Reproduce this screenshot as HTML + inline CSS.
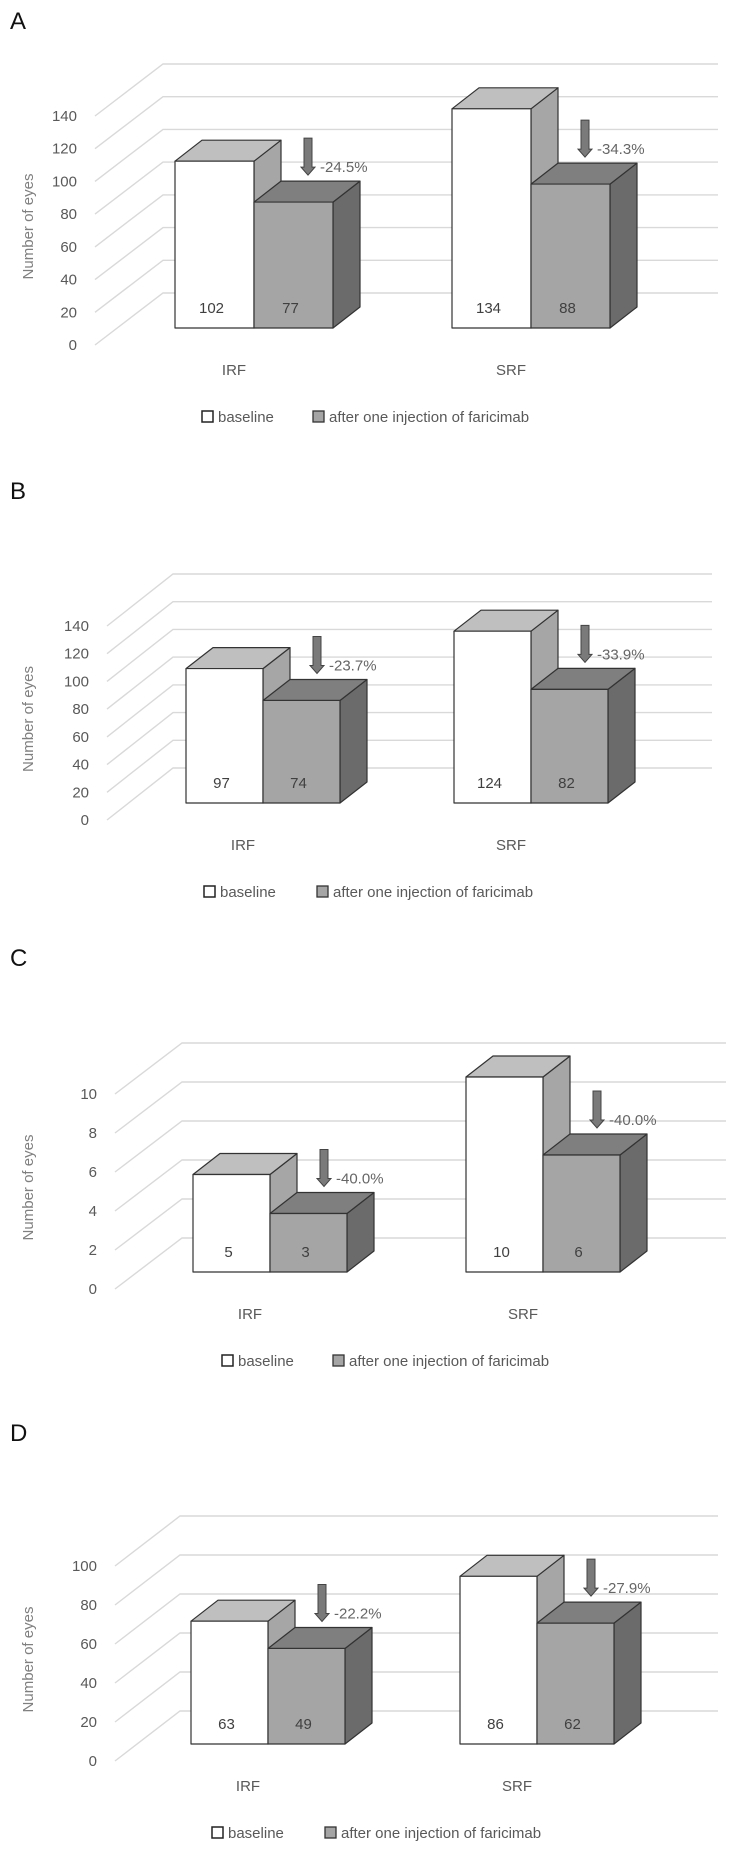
<!DOCTYPE html>
<html>
<head>
<meta charset="utf-8">
<style>
  html, body { margin: 0; padding: 0; background: #fff; }
  body { width: 732px; height: 1859px; overflow: hidden; }
  svg { display: block; font-family: "Liberation Sans", "DejaVu Sans", sans-serif; }
</style>
</head>
<body>
<svg id="fig" width="732" height="1859" viewBox="0 0 732 1859" xmlns="http://www.w3.org/2000/svg"></svg>
<script>
// ---- data ----
const panelLetters = ["A", "B", "C", "D"];
const categories = ["IRF", "SRF"];
const baselineValues = [[102, 134], [97, 124], [5, 10], [63, 86]];
const afterValues = [[77, 88], [74, 82], [3, 6], [49, 62]];
const changeLabels = [["-24.5%", "-34.3%"], ["-23.7%", "-33.9%"], ["-40.0%", "-40.0%"], ["-22.2%", "-27.9%"]];
const axisMax = [140, 140, 10, 100];
const axisStep = [20, 20, 2, 20];
const seriesNames = ["baseline", "after one injection of faricimab"];

// ---- layout (pixels) ----
const layouts = [
  { letterY: 20, front0: 345, axisLen: 229, tickRight: 77, frontX: 95, dx: 68, dy: -52, barX: [175, 452], barW: 79, gridRight: 718, legX: [202, 313] },
  { letterY: 490, front0: 820, axisLen: 194, tickRight: 89, frontX: 107, dx: 66, dy: -52, barX: [186, 454], barW: 77, gridRight: 712, legX: [204, 317] },
  { letterY: 957, front0: 1289, axisLen: 195, tickRight: 97, frontX: 115, dx: 67, dy: -51, barX: [193, 466], barW: 77, gridRight: 726, legX: [222, 333] },
  { letterY: 1432, front0: 1761, axisLen: 195, tickRight: 97, frontX: 115, dx: 65, dy: -50, barX: [191, 460], barW: 77, gridRight: 718, legX: [212, 325] }
];

const NS = "http://www.w3.org/2000/svg";
const svg = document.getElementById("fig");
function mk(tag, attrs, parent) {
  const e = document.createElementNS(NS, tag);
  for (const k in attrs) e.setAttribute(k, attrs[k]);
  (parent || svg).appendChild(e);
  return e;
}
function poly(pts) { return pts.map(p => p[0].toFixed(1) + "," + p[1].toFixed(1)).join(" "); }

layouts.forEach((L, pi) => {
  const g = mk("g", {});
  
  
  const unit = L.axisLen / axisMax[pi];
  const yFront = v => L.front0 - v * unit;

  // panel letter
  const lt = mk("text", { x: 10, y: L.letterY + 9, "font-size": 24, fill: "#111" }, g);
  lt.textContent = panelLetters[pi];
  
  

  // grid lines + ticks
  for (let v = 0; v <= axisMax[pi] + 1e-9; v += axisStep[pi]) {
    const y = yFront(v);
    const gl = mk("polyline", { points: poly([[L.frontX, y], [L.frontX + L.dx, y + L.dy], [L.gridRight, y + L.dy]]), fill: "none", stroke: "#d9d9d9", "stroke-width": 1.4 }, g);
    
    
    const tk = mk("text", { x: L.tickRight, y: y + 5, "font-size": 15, fill: "#595959", "text-anchor": "end" }, g);
    tk.textContent = String(v);
    
    
  }

  // y axis title
  const ty = (yFront(axisMax[pi]) + L.front0) / 2 - 4;
  const yt = mk("text", { x: 0, y: 0, "font-size": 15, fill: "#7f7f7f", "text-anchor": "middle", transform: "translate(33," + ty + ") rotate(-90)" }, g);
  yt.textContent = "Number of eyes";
  
  

  // bars
  const bottom = L.front0 - 17;
  const yBar = v => bottom - v * unit;
  const ddx = 27, ddy = -21;
  categories.forEach((cat, ci) => {
    const x0 = L.barX[ci], w = L.barW, x1 = x0 + w, x2 = x1 + w;
    const bTop = yBar(baselineValues[pi][ci]);
    const aTop = yBar(afterValues[pi][ci]);
    const st = { stroke: "#333", "stroke-width": 1.2, "stroke-linejoin": "round" };
    // baseline bar
    const bs = mk("polygon", Object.assign({ points: poly([[x1, bTop], [x1 + ddx, bTop + ddy], [x1 + ddx, bottom + ddy], [x1, bottom]]), fill: "#a6a6a6" }, st), g);
    
    
    const bt = mk("polygon", Object.assign({ points: poly([[x0, bTop], [x0 + ddx, bTop + ddy], [x1 + ddx, bTop + ddy], [x1, bTop]]), fill: "#bfbfbf" }, st), g);
    
    
    const bf = mk("rect", Object.assign({ x: x0, y: bTop, width: w, height: bottom - bTop, fill: "#fff" }, st), g);
    
    
    // after bar
    const as = mk("polygon", Object.assign({ points: poly([[x2, aTop], [x2 + ddx, aTop + ddy], [x2 + ddx, bottom + ddy], [x2, bottom]]), fill: "#6b6b6b" }, st), g);
    
    
    const at = mk("polygon", Object.assign({ points: poly([[x1, aTop], [x1 + ddx, aTop + ddy], [x2 + ddx, aTop + ddy], [x2, aTop]]), fill: "#7f7f7f" }, st), g);
    
    
    const af = mk("rect", Object.assign({ x: x1, y: aTop, width: w, height: bottom - aTop, fill: "#a5a5a5" }, st), g);
    
    

    // value labels
    const vb = mk("text", { x: x0 + w / 2 - 3, y: bottom - 15, "font-size": 15, fill: "#404040", "text-anchor": "middle" }, g);
    vb.textContent = String(baselineValues[pi][ci]);
    
    
    const va = mk("text", { x: x1 + w / 2 - 3, y: bottom - 15, "font-size": 15, fill: "#404040", "text-anchor": "middle" }, g);
    va.textContent = String(afterValues[pi][ci]);
    
    

    // arrow
    const ax = x1 + 54, tip = aTop + ddy - 6, top = tip - 37;
    const arr = mk("polygon", { points: poly([[ax - 4, top], [ax + 4, top], [ax + 4, tip - 8], [ax + 7, tip - 8], [ax, tip], [ax - 7, tip - 8], [ax - 4, tip - 8]]), fill: "#7a7a7a", stroke: "#444", "stroke-width": 1 }, g);
    
    
    const pl = mk("text", { x: ax + 12, y: tip - 3, "font-size": 15, fill: "#666" }, g);
    pl.textContent = changeLabels[pi][ci];
    
    

    // category label
    const cl = mk("text", { x: x1 - 20, y: L.front0 + 30, "font-size": 15, fill: "#595959", "text-anchor": "middle" }, g);
    cl.textContent = cat;
    
    
  });

  // legend
  const ly = L.front0 + 72;
  const s1 = mk("rect", { x: L.legX[0], y: ly - 6, width: 11, height: 11, fill: "#fff", stroke: "#222", "stroke-width": 1.5 }, g);
  
  
  const t1 = mk("text", { x: L.legX[0] + 16, y: ly + 5, "font-size": 15, fill: "#595959" }, g);
  t1.textContent = seriesNames[0];
  
  
  const s2 = mk("rect", { x: L.legX[1], y: ly - 6, width: 11, height: 11, fill: "#a5a5a5", stroke: "#333", "stroke-width": 1.3 }, g);
  
  
  const t2 = mk("text", { x: L.legX[1] + 16, y: ly + 5, "font-size": 15, fill: "#595959" }, g);
  t2.textContent = seriesNames[1];
  
  
});
</script>
</body>
</html>
